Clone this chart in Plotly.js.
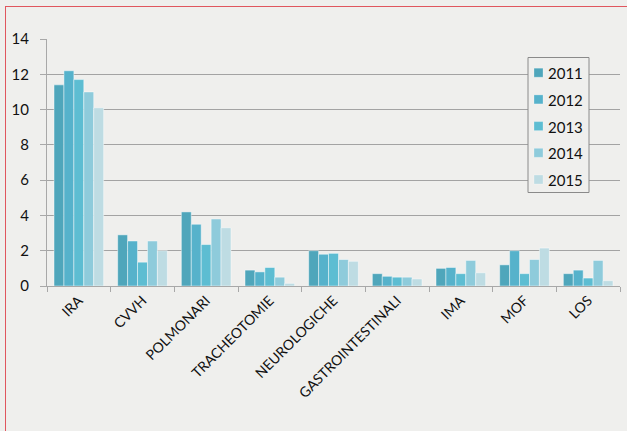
<!DOCTYPE html>
<html>
<head>
<meta charset="utf-8">
<script src="https://cdn.plot.ly/plotly-3.0.1.min.js"></script>
<style>
  html, body { margin: 0; padding: 0; background: #efefed; }
  #wrap { position: relative; width: 627px; height: 431px; overflow: hidden; }
  #chart { position: absolute; left: 0; top: 0; width: 627px; height: 431px; }
  #frame { position: absolute; left: 5px; top: 6px; width: 640px; height: 440px;
           border-left: 1.5px solid #e0565e; border-top: 1.5px solid #e0565e; pointer-events: none; }
</style>
</head>
<body>
<div id="wrap">
  <div id="chart"></div>
  <div id="frame"></div>
</div>
<script>
const categories = ["IRA", "CVVH", "POLMONARI", "TRACHEOTOMIE", "NEUROLOGICHE",
                    "GASTROINTESTINALI", "IMA", "MOF", "LOS"];
const years = ["2011", "2012", "2013", "2014", "2015"];
const v2011 = [11.4, 2.9, 4.2, 0.9, 2.0, 0.7, 1.0, 1.2, 0.7];
const v2012 = [12.2, 2.55, 3.5, 0.8, 1.8, 0.55, 1.05, 2.0, 0.9];
const v2013 = [11.7, 1.35, 2.35, 1.05, 1.85, 0.5, 0.7, 0.7, 0.45];
const v2014 = [11.0, 2.55, 3.8, 0.5, 1.5, 0.5, 1.45, 1.5, 1.45];
const v2015 = [10.1, 2.0, 3.3, 0.15, 1.4, 0.4, 0.75, 2.15, 0.3];
const yTicks = [0, 2, 4, 6, 8, 10, 12, 14];

const series = [v2011, v2012, v2013, v2014, v2015];
const colors = ["#4fa6bb", "#56b2cb", "#5dbdd2", "#8ecbdb", "#bedce3"];

const W = 627, H = 431;
const M = { l: 47, r: 7, t: 39, b: 145 };
const PW = W - M.l - M.r, PH = H - M.t - M.b;
const px = x => (x - M.l) / PW;
const py = y => (H - M.b - y) / PH;

const traces = series.map((vals, i) => ({
  type: "bar",
  name: years[i],
  x: categories,
  y: vals,
  marker: { color: colors[i], line: { color: "rgba(255,255,255,0.45)", width: 1 } },
  hoverinfo: "x+y+name"
}));

// custom legend (box, swatches, labels)
const shapes = [{
  type: "rect", xref: "paper", yref: "paper", layer: "above",
  x0: px(528), x1: px(589), y0: py(57.5), y1: py(192.5),
  fillcolor: "#efefed", line: { color: "#8a8a8a", width: 1 }
}];
const annotations = [];
const rowY = [72.7, 99.4, 126.1, 152.8, 179.5];
years.forEach((yr, i) => {
  shapes.push({
    type: "rect", xref: "paper", yref: "paper", layer: "above",
    x0: px(534), x1: px(543), y0: py(rowY[i] - 4.5), y1: py(rowY[i] + 4.5),
    fillcolor: colors[i], line: { color: "rgba(255,255,255,0.5)", width: 0.5 }
  });
  annotations.push({
    xref: "paper", yref: "paper", x: px(546), y: py(rowY[i] + 0.5),
    xanchor: "left", yanchor: "middle", showarrow: false, text: yr,
    font: { family: "Lato, 'DejaVu Sans', sans-serif", size: 15, color: "#111" }
  });
});

const layout = {
  width: W, height: H,
  paper_bgcolor: "#efefed",
  plot_bgcolor: "#efefed",
  margin: { l: M.l, r: M.r, t: M.t, b: M.b, pad: 0 },
  barmode: "group",
  bargap: 0.22,
  bargroupgap: 0,
  showlegend: false,
  shapes: shapes,
  annotations: annotations,
  xaxis: {
    type: "category",
    tickangle: -45,
    ticks: "outside", ticklen: 5, tickcolor: "#a8a8a8", tickson: "boundaries",
    showline: true, linecolor: "#a8a8a8", linewidth: 1,
    showgrid: false, zeroline: false,
    tickfont: { family: "Lato, 'DejaVu Sans', sans-serif", size: 14, color: "#111" },
    fixedrange: true
  },
  yaxis: {
    range: [0, 14],
    tickvals: yTicks,
    ticktext: yTicks.map(String),
    ticks: "outside", ticklen: 6, tickcolor: "#a8a8a8",
    showline: true, linecolor: "#a8a8a8", linewidth: 1,
    showgrid: true, gridcolor: "#a3a3a3", gridwidth: 1,
    zeroline: false,
    tickfont: { family: "Lato, 'DejaVu Sans', sans-serif", size: 15, color: "#111" },
    ticklabelstandoff: 8,
    fixedrange: true
  },
  font: { family: "Lato, 'DejaVu Sans', sans-serif" }
};

Plotly.newPlot("chart", traces, layout, { displayModeBar: false, staticPlot: true });
</script>
</body>
</html>
